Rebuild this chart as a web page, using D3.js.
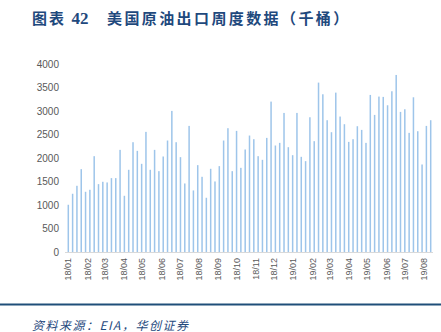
<!DOCTYPE html>
<html><head><meta charset="utf-8">
<script src="https://cdn.jsdelivr.net/npm/d3@7"></script>
<style>
html,body{margin:0;padding:0;background:#fff;}
svg{display:block;}
</style></head>
<body>
<svg id="c" width="441" height="332"></svg>
<script>
// weekly US crude oil exports (thousand barrels/day), first week 2018-01-05
const startDate = "2018-01-05";
const values = [
 1005,1239,1409,1763,1281,1324,2039,1444,1494,1480,1572,1572,2173,1196,1749,2336,
 2152,1876,2556,1749,2173,1720,2032,2372,3002,2336,2018,1458,2683,1310,1848,1600,1154,
 1770,1501,1827,2372,2634,1720,2577,1791,2181,2478,2400,2039,1961,2428,3200,2266,2322,
 2959,2230,2060,2959,2025,1933,2867,2358,3604,3356,2804,2549,3391,2882,2719,2343,2400,
 2676,2598,2322,3342,2917,3307,3300,3122,3420,3767,2981,3037,2535,3292,2570,1862,2683,2804
];
const yTicks = [0,500,1000,1500,2000,2500,3000,3500,4000];
const xTickFormat = "%y/%m";
const titleNum = "图表 ";
const titleNum2 = "42";
const titleText = "美国原油出口周度数据（千桶）";
const sourceText = "资料来源：EIA，华创证券";

const parse = d3.timeParse("%Y-%m-%d");
const d0 = parse(startDate);
const data = values.map((v,i)=>({date:d3.timeDay.offset(d0,7*i), v}));

const svg = d3.select("#c");
const x = d3.scaleTime()
  .domain([data[0].date, data[data.length-1].date])
  .range([68.3, 430.7]);
const y = d3.scaleLinear().domain([0,4000]).range([252,64]);

// title
const t = svg.append("text").attr("x",32).attr("y",24)
  .attr("fill","#1f497d").attr("font-weight","bold");
t.append("tspan").attr("font-family","'Noto Sans CJK SC'").attr("font-size",15)
  .attr("letter-spacing",2).text(titleNum);
t.append("tspan").attr("font-family","'Liberation Serif'").attr("font-size",17)
  .text(titleNum2);
svg.append("text").attr("x",107).attr("y",24)
  .attr("fill","#1f497d").attr("font-weight","bold")
  .attr("font-family","'Noto Sans CJK SC'").attr("font-size",15)
  .attr("letter-spacing",2.4).text(titleText);

// y axis labels
const ya = svg.append("g").attr("transform","translate(59,0)")
  .call(d3.axisLeft(y).tickValues(yTicks).tickFormat(d3.format("d")).tickSize(0).tickPadding(0));
ya.select(".domain").remove();
ya.selectAll("text").attr("fill","#595959").attr("font-size",10)
  .attr("font-family","'Liberation Sans', Arial, sans-serif");

// bars
svg.append("g").selectAll("rect").data(data).join("rect")
  .attr("x",d=>x(d.date)-0.75).attr("width",1.5)
  .attr("y",d=>y(d.v)).attr("height",d=>y(0)-y(d.v))
  .attr("fill","#9ec5ea");

// x axis baseline
svg.append("line").attr("x1",65).attr("x2",433).attr("y1",252.5).attr("y2",252.5)
  .attr("stroke","#d9d9d9").attr("stroke-width",1);

// x tick labels (month starts)
const months = d3.timeMonth.range(d3.timeMonth.ceil(d3.timeDay.offset(d0,-5)), d3.timeDay.offset(data[data.length-1].date,1));
const fmt = d3.timeFormat(xTickFormat);
svg.append("g").selectAll("text").data(months).join("text")
  .attr("transform",d=>`translate(${x(d)+2.5},258) rotate(-90)`)
  .attr("text-anchor","end").attr("dy","0.35em")
  .attr("fill","#595959").attr("font-size",9)
  .attr("font-family","'Liberation Sans', Arial, sans-serif")
  .text(d=>fmt(d));

// bottom rule and source
svg.append("line").attr("x1",0).attr("x2",441).attr("y1",304.5).attr("y2",304.5)
  .attr("stroke","#1f4e79").attr("stroke-width",2);
svg.append("text").attr("x",32).attr("y",330)
  .attr("fill","#1f497d").attr("font-style","italic")
  .attr("font-family","'Noto Sans CJK SC'").attr("font-size",12)
  .attr("letter-spacing",1.5).text(sourceText);
</script>
</body></html>
